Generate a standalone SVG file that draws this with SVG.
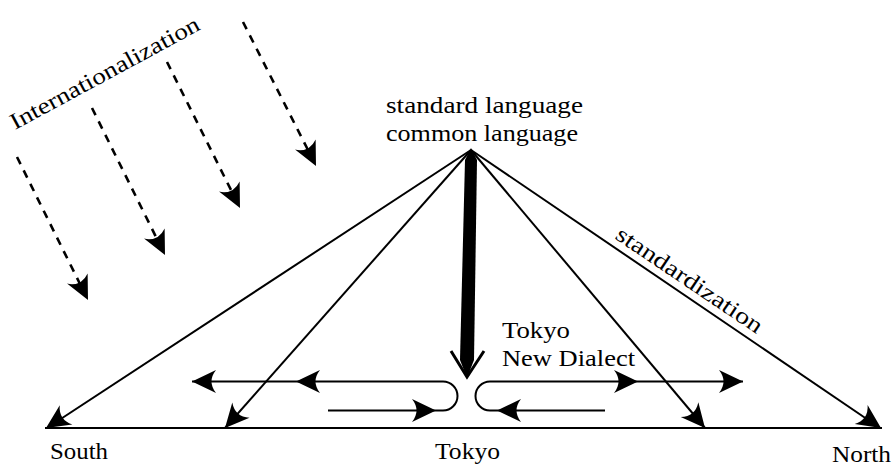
<svg xmlns="http://www.w3.org/2000/svg" xmlns:xlink="http://www.w3.org/1999/xlink" width="895" height="466" viewBox="0 0 895 466">
<style>
.t{font-family:"Liberation Serif","DejaVu Serif",serif;font-size:23px;fill:#000}
.ln{stroke:#000;stroke-width:2;fill:none}
.dash{stroke:#000;stroke-width:2.6;fill:none;stroke-dasharray:8 7}
.ah{fill:#000}
</style>
<defs>
<path id="ah" class="ah" d="M0,0 L-24,-11.5 Q-15,0 -24,11.5 Z"/>
</defs>
<rect width="895" height="466" fill="#fff"/>
<g id="connectors">
<line class="ln" x1="45" y1="428" x2="882" y2="428" stroke-width="2.5"/>
<line class="ln" x1="471" y1="150" x2="47" y2="428"/>
<line class="ln" x1="471" y1="150" x2="225" y2="428"/>
<line class="ln" x1="471" y1="150" x2="705" y2="428"/>
<line class="ln" x1="471" y1="150" x2="880" y2="428"/>
<use xlink:href="#ah" transform="translate(46,428) rotate(146.7)"/>
<use xlink:href="#ah" transform="translate(225,428) rotate(131.5)"/>
<use xlink:href="#ah" transform="translate(705,428) rotate(49.9)"/>
<use xlink:href="#ah" transform="translate(881,428) rotate(34.2)"/>
<polygon points="471,148 477,160 474,360 467,378 460,360 465,160" fill="#000"/>
<polyline points="451,351 467,377 484,351" fill="none" stroke="#000" stroke-width="3"/>
<path class="ln" d="M192,381.5 L443,381.5 A14.5 14.5 0 0 1 443,410.5 L328,410.5"/>
<use xlink:href="#ah" transform="translate(192,381.5) rotate(180)"/>
<use xlink:href="#ah" transform="translate(296,381.5) rotate(180)"/>
<use xlink:href="#ah" transform="translate(436,410.5)"/>
<path class="ln" d="M743,381.5 L490,381.5 A14.5 14.5 0 0 0 490,410.5 L605,410.5"/>
<use xlink:href="#ah" transform="translate(743,381.5)"/>
<use xlink:href="#ah" transform="translate(638,381.5)"/>
<use xlink:href="#ah" transform="translate(497,410.5) rotate(180)"/>
<line class="dash" x1="17" y1="157" x2="80" y2="284"/>
<line class="dash" x1="92" y1="108" x2="157" y2="239"/>
<line class="dash" x1="167" y1="62" x2="232" y2="192"/>
<line class="dash" x1="243" y1="22" x2="308" y2="150"/>
<use xlink:href="#ah" transform="translate(88,300) rotate(63.6)"/>
<use xlink:href="#ah" transform="translate(165,255) rotate(63.6)"/>
<use xlink:href="#ah" transform="translate(240,208) rotate(63.6)"/>
<use xlink:href="#ah" transform="translate(316,166) rotate(63.6)"/>
</g>
<g id="standard">
<text class="t" x="386" y="112.5" textLength="197" lengthAdjust="spacingAndGlyphs">standard language</text>
<text class="t" x="386" y="140.5" textLength="192" lengthAdjust="spacingAndGlyphs">common language</text>
</g>
<g id="tokyo-new-dialect">
<text class="t" x="502" y="338" textLength="68" lengthAdjust="spacingAndGlyphs">Tokyo</text>
<text class="t" x="502" y="366" textLength="133" lengthAdjust="spacingAndGlyphs">New Dialect</text>
</g>
<g id="south"><text class="t" x="50" y="459" textLength="58" lengthAdjust="spacingAndGlyphs">South</text></g>
<g id="tokyo"><text class="t" x="435" y="459" textLength="65" lengthAdjust="spacingAndGlyphs">Tokyo</text></g>
<g id="north"><text class="t" x="832" y="462" textLength="59" lengthAdjust="spacingAndGlyphs">North</text></g>
<g id="internationalization"><text class="t" x="15" y="130" font-size="22" textLength="212" lengthAdjust="spacingAndGlyphs" transform="rotate(-28.4 15 130)">Internationalization</text></g>
<g id="standardization"><text class="t" x="614" y="238" font-size="19" textLength="172" lengthAdjust="spacingAndGlyphs" transform="rotate(34 614 238)">standardization</text></g>
</svg>
